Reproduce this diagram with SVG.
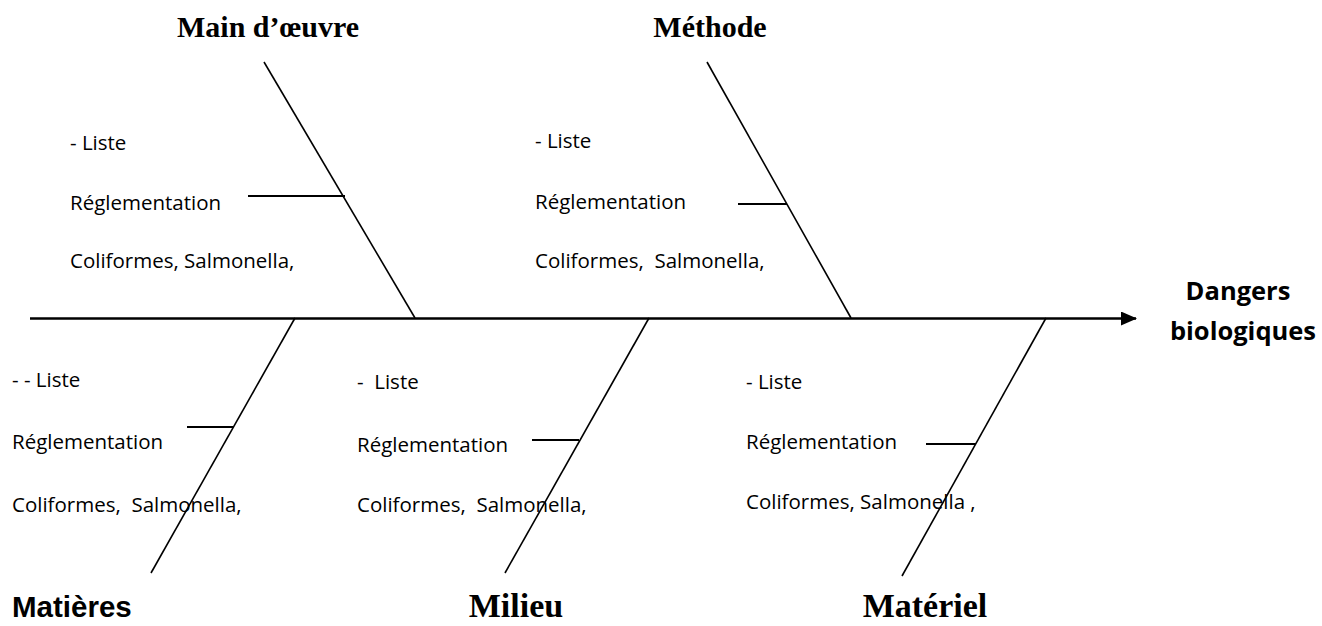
<svg xmlns="http://www.w3.org/2000/svg" width="1322" height="626" viewBox="0 0 1322 626">
  <style>
    .spine { stroke: #000; stroke-width: 2.5; fill: none; }
    .bone { stroke: #000; stroke-width: 1.6; fill: none; }
    .tick { stroke: #000; stroke-width: 1.8; fill: none; }
    .item { font-family: "Open Sans", "Liberation Sans", sans-serif; font-size: 20.5px; fill: #000; white-space: pre; }
    .cause { font-family: "Liberation Serif", serif; font-weight: bold; font-size: 30px; fill: #000; }
    .cause-low { font-family: "Liberation Serif", serif; font-weight: bold; font-size: 34px; fill: #000; }
    .cause-sans { font-family: "Liberation Sans", sans-serif; font-weight: bold; font-size: 29.5px; fill: #000; }
    .effect { font-family: "Open Sans", "Liberation Sans", sans-serif; font-weight: bold; font-size: 25.5px; fill: #000; }
  </style>
  <defs>
    <marker id="arrow" viewBox="0 0 16 14" refX="15" refY="7" markerWidth="16" markerHeight="14" markerUnits="userSpaceOnUse" orient="auto">
      <path d="M0,0 L16,7 L0,14 Z" fill="#000"/>
    </marker>
  </defs>
  <rect width="1322" height="626" fill="#fff"/>

  <!-- spine and bones -->
  <g id="connectors">
    <line class="spine" x1="30" y1="318.5" x2="1136" y2="318.5" marker-end="url(#arrow)"/>
    <!-- upper bones -->
    <line class="bone" x1="264" y1="62" x2="415" y2="318"/>
    <line class="tick" x1="248" y1="196" x2="345" y2="196"/>
    <line class="bone" x1="707" y1="62" x2="851" y2="318"/>
    <line class="tick" x1="738" y1="204" x2="787" y2="204"/>
    <!-- lower bones -->
    <line class="bone" x1="295" y1="318" x2="151" y2="573"/>
    <line class="tick" x1="187" y1="427" x2="234" y2="427"/>
    <line class="bone" x1="649" y1="318" x2="505" y2="573"/>
    <line class="tick" x1="532" y1="440" x2="579" y2="440"/>
    <line class="bone" x1="1046" y1="318" x2="902" y2="576"/>
    <line class="tick" x1="926" y1="444" x2="976" y2="444"/>
  </g>

  <g id="effect">
    <text class="effect" x="1238" y="300" text-anchor="middle">Dangers</text>
    <text class="effect" x="1243" y="340" text-anchor="middle">biologiques</text>
  </g>

  <g id="main-oeuvre">
    <text class="cause" x="268" y="37" text-anchor="middle">Main d’œuvre</text>
    <text class="item" x="70" y="150">- Liste</text>
    <text class="item" x="70" y="210">Réglementation</text>
    <text class="item" x="70" y="268">Coliformes, Salmonella,</text>
  </g>

  <g id="methode">
    <text class="cause" x="710" y="37" text-anchor="middle">Méthode</text>
    <text class="item" x="535" y="148">- Liste</text>
    <text class="item" x="535" y="209">Réglementation</text>
    <text class="item" x="535" y="268" xml:space="preserve">Coliformes,  Salmonella,</text>
  </g>

  <g id="matieres">
    <text class="cause-sans" x="12" y="617">Matières</text>
    <text class="item" x="12" y="387">- - Liste</text>
    <text class="item" x="12" y="449">Réglementation</text>
    <text class="item" x="12" y="512" xml:space="preserve">Coliformes,  Salmonella,</text>
  </g>

  <g id="milieu">
    <text class="cause-low" x="516" y="617" text-anchor="middle">Milieu</text>
    <text class="item" x="357" y="389" xml:space="preserve">-  Liste</text>
    <text class="item" x="357" y="452">Réglementation</text>
    <text class="item" x="357" y="512" xml:space="preserve">Coliformes,  Salmonella,</text>
  </g>

  <g id="materiel">
    <text class="cause-low" x="925" y="617" text-anchor="middle">Matériel</text>
    <text class="item" x="746" y="389">- Liste</text>
    <text class="item" x="746" y="449">Réglementation</text>
    <text class="item" x="746" y="509">Coliformes, Salmonella ,</text>
  </g>
</svg>
